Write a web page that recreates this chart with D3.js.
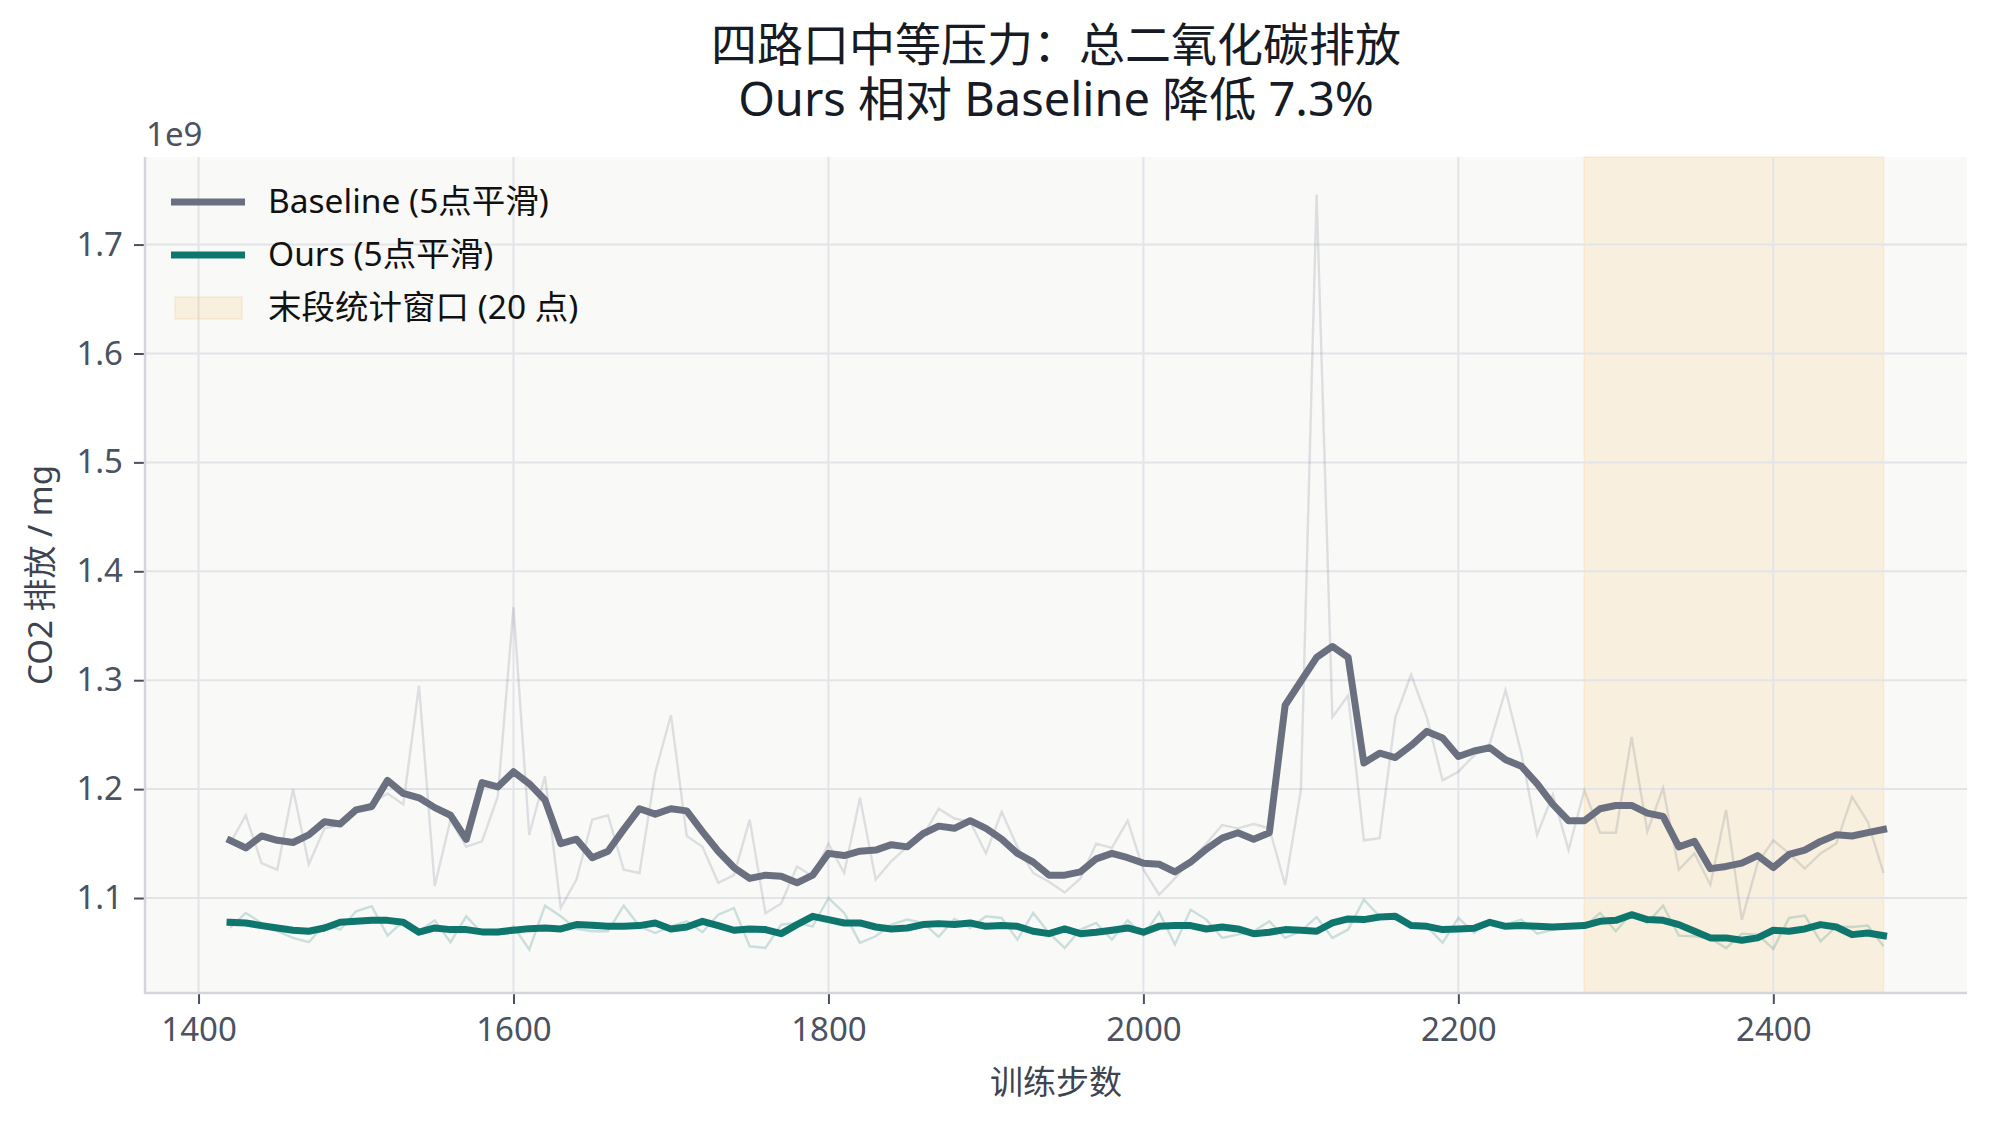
<!DOCTYPE html>
<html>
<head>
<meta charset="utf-8">
<script src="https://cdn.jsdelivr.net/npm/d3@7"></script>
<style>
body { margin: 0; background: #ffffff; }
svg text { font-family: "Noto Sans", "Noto Sans CJK SC", sans-serif; }
</style>
</head>
<body>
<svg id="chart" width="1991" height="1126"></svg>
<script>
// training steps, 10 apart
var steps = d3.range(1420, 2471, 10);

// values in units of 1e9 mg
var baselineRaw = [
  1.150, 1.176, 1.132, 1.126, 1.200, 1.131, 1.164, 1.167, 1.181, 1.187,
  1.196, 1.186, 1.295, 1.111, 1.172, 1.147, 1.152, 1.193, 1.367, 1.158,
  1.212, 1.091, 1.117, 1.172, 1.176, 1.126, 1.123, 1.215, 1.268, 1.157,
  1.147, 1.114, 1.121, 1.172, 1.086, 1.095, 1.129, 1.120, 1.150, 1.123,
  1.192, 1.117, 1.134, 1.147, 1.157, 1.182, 1.173, 1.170, 1.141, 1.179,
  1.147, 1.123, 1.115, 1.105, 1.118, 1.150, 1.146, 1.171, 1.126, 1.103,
  1.118, 1.135, 1.150, 1.167, 1.164, 1.168, 1.164, 1.112, 1.199, 1.746,
  1.266, 1.286, 1.153, 1.155, 1.266, 1.305, 1.266, 1.208, 1.216, 1.231,
  1.242, 1.291, 1.233, 1.158, 1.195, 1.144, 1.199, 1.160, 1.160, 1.248,
  1.161, 1.201, 1.126, 1.141, 1.112, 1.181, 1.080, 1.132, 1.153, 1.141,
  1.127, 1.141, 1.150, 1.193, 1.170, 1.123
];
var baselineSmooth = [
  1.153, 1.146, 1.157, 1.153, 1.151, 1.158, 1.170, 1.168, 1.181, 1.184,
  1.208, 1.196, 1.192, 1.183, 1.176, 1.154, 1.206, 1.202, 1.216, 1.205,
  1.190, 1.150, 1.154, 1.137, 1.143, 1.163, 1.182, 1.177, 1.182, 1.180,
  1.161, 1.143, 1.128, 1.118, 1.121, 1.120, 1.114, 1.121, 1.141, 1.139,
  1.143, 1.144, 1.149, 1.147, 1.159, 1.166, 1.164, 1.171, 1.164, 1.154,
  1.141, 1.133, 1.121, 1.121, 1.124, 1.136, 1.141, 1.137, 1.132, 1.131,
  1.124, 1.133, 1.145, 1.155, 1.160, 1.154, 1.160, 1.277, 1.299, 1.321,
  1.331, 1.321, 1.224, 1.233, 1.229, 1.240, 1.253, 1.247, 1.230, 1.235,
  1.238, 1.227, 1.221, 1.205, 1.186, 1.171, 1.171, 1.182, 1.185, 1.185,
  1.178, 1.175, 1.147, 1.152, 1.127, 1.129, 1.132, 1.139, 1.128, 1.140,
  1.144, 1.152, 1.158, 1.157, 1.160, 1.163
];
var oursRaw = [
  1.0725, 1.0863, 1.0771, 1.0695, 1.0634, 1.0594, 1.0756, 1.0710, 1.0878, 1.0924,
  1.0655, 1.0786, 1.0695, 1.0795, 1.0594, 1.0832, 1.0679, 1.0664, 1.0740, 1.0527,
  1.0930, 1.0832, 1.0716, 1.0695, 1.0695, 1.0930, 1.0740, 1.0679, 1.0740, 1.0786,
  1.0686, 1.0847, 1.0908, 1.0557, 1.0542, 1.0756, 1.0771, 1.0740, 1.1000, 1.0863,
  1.0588, 1.0649, 1.0756, 1.0802, 1.0771, 1.0643, 1.0808, 1.0725, 1.0832, 1.0817,
  1.0618, 1.0863, 1.0679, 1.0542, 1.0710, 1.0771, 1.0618, 1.0795, 1.0655, 1.0869,
  1.0573, 1.0893, 1.0802, 1.0634, 1.0664, 1.0695, 1.0786, 1.0634, 1.0695, 1.0826,
  1.0634, 1.0710, 1.0985, 1.0832, 1.0802, 1.0740, 1.0740, 1.0588, 1.0817, 1.0679,
  1.0786, 1.0756, 1.0802, 1.0673, 1.0710, 1.0740, 1.0734, 1.0863, 1.0695, 1.0863,
  1.0771, 1.0930, 1.0655, 1.0649, 1.0630, 1.0540, 1.0673, 1.0664, 1.0533, 1.0817,
  1.0838, 1.0603, 1.0740, 1.0734, 1.0747, 1.0557
];
var oursSmooth = [
  1.0777, 1.0771, 1.0747, 1.0725, 1.0704, 1.0695, 1.0725, 1.0777, 1.0786, 1.0795,
  1.0795, 1.0777, 1.0686, 1.0725, 1.0710, 1.0710, 1.0689, 1.0689, 1.0704, 1.0719,
  1.0725, 1.0716, 1.0756, 1.0750, 1.0740, 1.0740, 1.0747, 1.0771, 1.0716, 1.0734,
  1.0786, 1.0747, 1.0704, 1.0716, 1.0710, 1.0673, 1.0756, 1.0832, 1.0802, 1.0771,
  1.0771, 1.0734, 1.0716, 1.0725, 1.0756, 1.0765, 1.0756, 1.0771, 1.0740, 1.0747,
  1.0740, 1.0695, 1.0673, 1.0716, 1.0673, 1.0686, 1.0704, 1.0725, 1.0686, 1.0740,
  1.0747, 1.0747, 1.0716, 1.0734, 1.0716, 1.0673, 1.0686, 1.0710, 1.0704, 1.0695,
  1.0771, 1.0808, 1.0802, 1.0826, 1.0832, 1.0747, 1.0740, 1.0710, 1.0716, 1.0722,
  1.0777, 1.0740, 1.0747, 1.0740, 1.0734, 1.0740, 1.0747, 1.0786, 1.0795, 1.0847,
  1.0802, 1.0795, 1.0756, 1.0695, 1.0634, 1.0634, 1.0612, 1.0634, 1.0704, 1.0695,
  1.0716, 1.0756, 1.0734, 1.0664, 1.0679, 1.0655
];

var windowRange = [2280, 2470];
var xTicks = [1400, 1600, 1800, 2000, 2200, 2400];
var yTicks = [1.1, 1.2, 1.3, 1.4, 1.5, 1.6, 1.7];
var legendLabels = ["Baseline (5点平滑)", "Ours (5点平滑)", "末段统计窗口 (20 点)"];

// plot box (window.top is read-only, so no bare "top")
var plotL = 145, plotR = 1967, plotT = 157, plotB = 993;

var svg = d3.select("#chart");

var x = d3.scaleLinear().domain([1366, 2523]).range([plotL, plotR]);
var y = d3.scaleLinear().domain([1.0128, 1.7804]).range([plotB, plotT]);

// plot background
svg.append("rect")
.attr("x", plotL)
.attr("y", plotT)
.attr("width", plotR - plotL)
.attr("height", plotB - plotT)
.style("fill", "#f9f9f8");

// stat window
svg.append("rect")
.attr("x", x(windowRange[0]))
.attr("y", plotT)
.attr("width", x(windowRange[1]) - x(windowRange[0]))
.attr("height", plotB - plotT)
.style("fill", "#f5b027")
.style("fill-opacity", 0.12)
.style("stroke", "#f5b027")
.style("stroke-opacity", 0.15)
.style("stroke-width", 1.5);

// grid
xTicks.forEach(function (t) {
  svg.append("line")
  .attr("x1", x(t)).attr("x2", x(t))
  .attr("y1", plotT).attr("y2", plotB)
  .style("stroke", "#e3e4e8")
  .style("stroke-width", 2);
});
yTicks.forEach(function (t) {
  svg.append("line")
  .attr("x1", plotL).attr("x2", plotR)
  .attr("y1", y(t)).attr("y2", y(t))
  .style("stroke", "#e3e4e8")
  .style("stroke-width", 2);
});

function makeLine(values) {
  return d3.line()
  .x(function (d, i) { return x(steps[i]); })
  .y(function (d) { return y(d); })(values);
}

// raw series, faint
svg.append("path")
.attr("d", makeLine(baselineRaw))
.style("fill", "none")
.style("stroke", "#6b7280")
.style("stroke-opacity", 0.2)
.style("stroke-width", 2.4);
svg.append("path")
.attr("d", makeLine(oursRaw))
.style("fill", "none")
.style("stroke", "#0f766e")
.style("stroke-opacity", 0.2)
.style("stroke-width", 2.4);

// smoothed series
svg.append("path")
.attr("d", makeLine(baselineSmooth))
.style("fill", "none")
.style("stroke", "#6b7080")
.style("stroke-width", 7)
.style("stroke-linejoin", "round")
.style("stroke-linecap", "square");
svg.append("path")
.attr("d", makeLine(oursSmooth))
.style("fill", "none")
.style("stroke", "#0f766e")
.style("stroke-width", 7)
.style("stroke-linejoin", "round")
.style("stroke-linecap", "square");

// axes
var xAxis = svg.append("g")
.attr("transform", "translate(0," + plotB + ")")
.call(d3.axisBottom(x).tickValues(xTicks).tickSize(11).tickPadding(14).tickFormat(d3.format("d")));
var yAxis = svg.append("g")
.attr("transform", "translate(" + plotL + ",0)")
.call(d3.axisLeft(y).tickValues(yTicks).tickSize(11).tickPadding(11).tickFormat(d3.format(".1f")));

[xAxis, yAxis].forEach(function (g) {
  g.select(".domain").remove();
  g.selectAll(".tick line").style("stroke", "#4b5060").style("stroke-width", 2);
  g.selectAll(".tick text")
  .style("font-size", "33px")
  .style("fill", "#4b5261")
  .style("font-family", "'Noto Sans', 'Noto Sans CJK SC', sans-serif");
});

// spines
svg.append("line")
.attr("x1", plotL).attr("x2", plotL)
.attr("y1", plotT).attr("y2", plotB + 1)
.style("stroke", "#d3d5db")
.style("stroke-width", 2.5);
svg.append("line")
.attr("x1", plotL - 1).attr("x2", plotR)
.attr("y1", plotB).attr("y2", plotB)
.style("stroke", "#d3d5db")
.style("stroke-width", 2.5);

// offset text
svg.append("text")
.text("1e9")
.attr("x", plotL + 1)
.attr("y", 146)
.attr("font-size", 33)
.style("fill", "#4b5261");

// titles
svg.append("text")
.text("四路口中等压力：总二氧化碳排放")
.attr("x", (plotL + plotR) / 2)
.attr("y", 61)
.attr("text-anchor", "middle")
.attr("font-size", 46)
.style("fill", "#161b26");
svg.append("text")
.text("Ours 相对 Baseline 降低 7.3%")
.attr("x", (plotL + plotR) / 2)
.attr("y", 116)
.attr("text-anchor", "middle")
.attr("font-size", 47)
.style("fill", "#161b26");

svg.append("text")
.text("训练步数")
.attr("x", (plotL + plotR) / 2)
.attr("y", 1094)
.attr("text-anchor", "middle")
.attr("font-size", 33)
.style("fill", "#3d4350");
svg.append("text")
.text("CO2 排放 / mg")
.attr("transform", "translate(52," + ((plotT + plotB) / 2) + ") rotate(-90)")
.attr("text-anchor", "middle")
.attr("font-size", 33)
.style("fill", "#3d4350");

// legend
var legendY = [202, 255, 308];
svg.append("line")
.attr("x1", 171).attr("x2", 245)
.attr("y1", legendY[0]).attr("y2", legendY[0])
.style("stroke", "#6b7080")
.style("stroke-width", 7);
svg.append("line")
.attr("x1", 171).attr("x2", 245)
.attr("y1", legendY[1]).attr("y2", legendY[1])
.style("stroke", "#0f766e")
.style("stroke-width", 7);
svg.append("rect")
.attr("x", 175).attr("y", legendY[2] - 11)
.attr("width", 67).attr("height", 22)
.style("fill", "#f5b027")
.style("fill-opacity", 0.12)
.style("stroke", "#f5b027")
.style("stroke-opacity", 0.15)
.style("stroke-width", 1.5);
legendLabels.forEach(function (label, i) {
  svg.append("text")
  .text(label)
  .attr("x", 268)
  .attr("y", legendY[i] + 11)
  .attr("font-size", 33.5)
  .style("fill", "#111111");
});
</script>
</body>
</html>
